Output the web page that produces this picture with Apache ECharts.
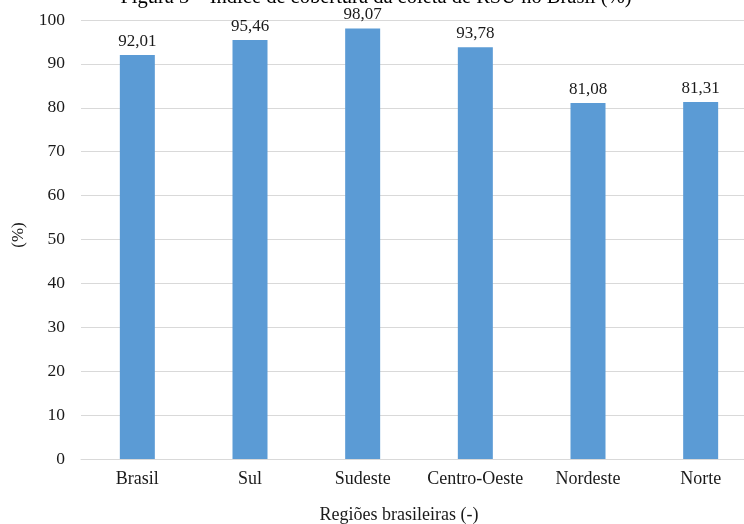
<!DOCTYPE html>
<html>
<head>
<meta charset="utf-8">
<script src="https://cdn.jsdelivr.net/npm/echarts@6/dist/echarts.min.js"></script>
<style>
  html, body { margin: 0; padding: 0; background: #ffffff; }
  #chart { width: 744px; height: 524px; }
</style>
</head>
<body>
<div id="chart"></div>
<script>
// Regiões e índice de cobertura da coleta de RSU (%)
const regioes = ['Brasil', 'Sul', 'Sudeste', 'Centro-Oeste', 'Nordeste', 'Norte'];
const cobertura = [92.01, 95.46, 98.07, 93.78, 81.08, 81.31];
const yTicks = [0, 10, 20, 30, 40, 50, 60, 70, 80, 90, 100];

const serif = '"Liberation Serif", "Times New Roman", serif';
const ink = '#1a1a1a';

const chart = echarts.init(document.getElementById('chart'), null, { renderer: 'canvas' });

chart.setOption({
  backgroundColor: '#ffffff',
  animation: false,
  // the plot runs past the right edge of the canvas
  grid: { left: 81, width: 676, top: 20, height: 439, containLabel: false, outerBoundsMode: 'none' },
  xAxis: {
    type: 'category',
    data: regioes,
    axisLine: { show: true, lineStyle: { color: '#d9d9d9', width: 1 } },
    axisTick: { show: false },
    axisLabel: { color: ink, fontFamily: serif, fontSize: 18, margin: 11, interval: 0, hideOverlap: false }
  },
  yAxis: {
    type: 'value',
    min: yTicks[0],
    max: yTicks[yTicks.length - 1],
    interval: 10,
    axisLine: { show: false },
    axisTick: { show: false },
    splitLine: { lineStyle: { color: '#d9d9d9', width: 1 } },
    axisLabel: { color: ink, fontFamily: serif, fontSize: 17.5, margin: 16 }
  },
  series: [{
    type: 'bar',
    data: cobertura,
    barWidth: 35,
    itemStyle: { color: '#5b9bd5' },
    label: {
      show: true,
      position: 'top',
      distance: 5,
      color: ink,
      fontFamily: serif,
      fontSize: 17,
      formatter: p => p.value.toFixed(2).replace('.', ',')
    }
  }],
  graphic: [
    {
      type: 'text',
      x: 376,
      y: 8,
      style: {
        text: 'Figura 3 – Índice de cobertura da coleta de RSU no Brasil (%)',
        font: '20.5px ' + serif,
        fill: '#000000',
        textAlign: 'center',
        textVerticalAlign: 'bottom'
      }
    },
    {
      type: 'text',
      x: 399,
      y: 515,
      style: {
        text: 'Regiões brasileiras (-)',
        font: '18px ' + serif,
        fill: ink,
        textAlign: 'center',
        textVerticalAlign: 'middle'
      }
    },
    {
      type: 'text',
      x: 19,
      y: 235,
      rotation: Math.PI / 2,
      style: {
        text: '(%)',
        font: '17px ' + serif,
        fill: ink,
        textAlign: 'center',
        textVerticalAlign: 'middle'
      }
    }
  ]
});
</script>
</body>
</html>
